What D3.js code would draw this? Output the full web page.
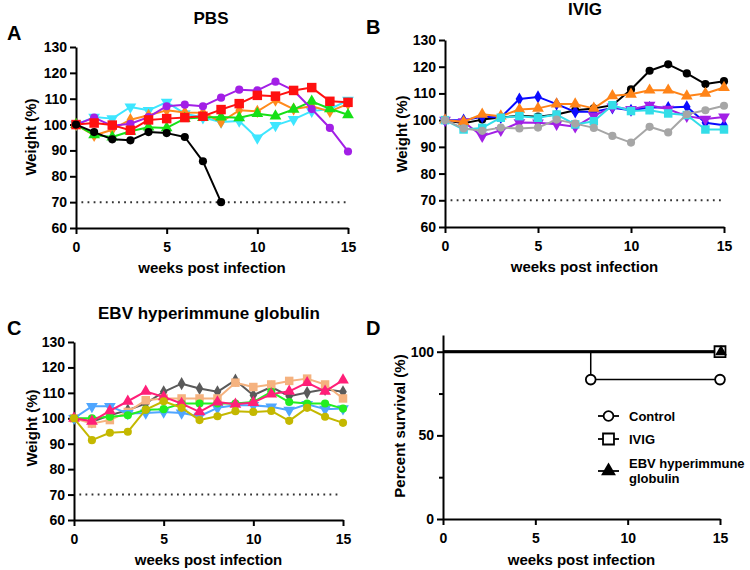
<!DOCTYPE html>
<html><head><meta charset="utf-8">
<script src="https://cdn.jsdelivr.net/npm/d3@7"></script>
<style>
html,body{margin:0;padding:0;background:#fff;}
svg text{font-family:"Liberation Sans",Arial,sans-serif;font-weight:bold;fill:#000;}
</style></head>
<body>
<svg id="chart" width="750" height="570"></svg>
<script>
// ---------------- DATA ----------------
const weeks = [0,1,2,3,4,5,6,7,8,9,10,11,12,13,14,15];
const weightTicks = [60,70,80,90,100,110,120,130];
const weekTicks = [0,5,10,15];
const thresholdWeight = 70;

// Panel A: PBS
const pbsBlack  = [100,97.1,94.3,93.9,97.1,96.7,95.2,85.8,70];
const pbsPurple = [100,102.7,99.5,100.3,102.9,107.1,107.7,107.1,110.4,113.5,113.2,116.6,113.2,106,98.7,89.6];
const pbsRed    = [100,100.6,99.8,97.8,101.8,102.3,102.7,103.2,105.8,108.1,111.3,111.0,113.2,114.3,109,108.6];
const pbsOrange = [100,95.8,98,101.9,103.6,105.5,104.7,104.6,101,105.5,105.1,109.4,106,107.1,105.1,108];
const pbsGreen  = [100,96,95.2,97.4,99,98.7,102.3,102.7,102.9,102.6,104.2,103.3,105.9,109,106.1,103.8];
const pbsCyan   = [100,102.9,102.3,106.8,105.5,108.7,104.2,102.7,101,101.4,94.8,99.7,102,105.2,106,109.4];

// Panel B: IVIG
const ivigBlack  = [100,98.8,100.2,101,101.6,101.3,102.1,103.7,104.4,105.6,111.5,118.5,120.9,117.5,113.5,114.6];
const ivigOrange = [100,99.4,102.2,101.5,104,104.4,106,106,104.4,109.1,109.7,111.2,111.2,109,110,112.2];
const ivigBlue   = [100,100,101.3,101,107.9,108.7,106,103.1,103.1,104.6,103.7,104.7,104.7,105,99,98.1];
const ivigPurple = [100,99.4,94,96.2,99.1,99,98.5,97.5,101.6,105,104,105.6,104.1,101.5,100.4,101.2];
const ivigCyan   = [100,96.5,97.1,100.9,101.5,100.9,102.1,98.4,99.6,105.6,103.4,103.7,102.5,101.9,96.5,96.5];
const ivigGray   = [100,96.9,96,97.2,96.9,97.2,100.2,98.7,97.1,94.1,91.6,97.5,95.4,102.2,103.7,105.4];

// Panel C: EBV hyperimmune globulin
const ebvGray  = [100,98.6,101.2,103.2,105.8,110.4,113.6,111.7,110.4,115,109.1,112.3,108.7,110.1,111.4,110.4];
const ebvTan   = [100,97.9,99.3,102.5,107.1,107.8,107.8,107.8,107.8,114,112.3,113.3,114.7,115.6,113.3,107.8];
const ebvPink  = [100,98.8,102.9,106.7,110.6,108.4,105.8,102.5,106.4,105.5,106.2,109.5,110.6,114,110.6,115];
const ebvGreen = [100,100,100.6,101.2,103.4,103.6,105.8,105.8,105.8,105.8,106.4,110.4,106.4,105.8,105.8,103.8];
const ebvBlue  = [100,104.7,104.7,101.9,102.1,102.5,102.1,100.8,104.1,105.1,105.1,104.5,103.2,105.5,103.6,103.8];
const ebvOlive = [100,91.4,94.3,94.7,103.4,106.7,104.1,99.3,100.8,102.8,102.5,102.9,99,104.1,100.6,98.2];

// Panel D: survival
const survivalTicks = [0,50,100];
const survivalMinorTicks = [25,75];
const controlTimes = [0,8,15];
const controlSurvival = [100,83.33,83.33];
const ivigTimes = [0,15];
const ivigSurvival = [100,100];
const ebvTimes = [0,15];
const ebvSurvival = [100,100];
const legendLabels = ["Control","IVIG","EBV hyperimmune globulin"];

// ---------------- DRAWING ----------------
const svg = d3.select("#chart");
const FONT = "Liberation Sans, Arial, sans-serif";

const sym = {
  circle: d3.symbol().type(d3.symbolCircle).size(52),
  square: d3.symbol().type(d3.symbolSquare).size(72),
  bigSquare: d3.symbol().type(d3.symbolSquare).size(90),
  triangle: d3.symbol().type(d3.symbolTriangle).size(60),
  diamond: d3.symbol().type(d3.symbolDiamond).size(50),
  invTriangle: d3.symbol().type(d3.symbolTriangle).size(60)
};

function styleAxis(g){
  g.select(".domain").attr("stroke","#000").attr("stroke-width",2);
  g.selectAll(".tick line").attr("stroke","#000").attr("stroke-width",2);
  g.selectAll(".tick text").attr("font-size",14).attr("font-family",FONT).attr("font-weight","bold").attr("fill","#000");
}

function weightPanel(cfg, series){
  const x = d3.scaleLinear().domain([0,15]).range([cfg.x0,cfg.x1]);
  const y = d3.scaleLinear().domain([60,130]).range([cfg.yBot,cfg.yTop]);
  const g = svg.append("g");

  g.append("g").attr("transform",`translate(0,${cfg.yBot})`)
    .call(d3.axisBottom(x).tickValues(weekTicks).tickSize(6).tickSizeOuter(0).tickPadding(8))
    .call(styleAxis);
  g.append("g").attr("transform",`translate(${cfg.x0},0)`)
    .call(d3.axisLeft(y).tickValues(weightTicks).tickSize(6).tickSizeOuter(0).tickPadding(3))
    .call(styleAxis);

  g.append("line")
    .attr("x1",x(0.3)).attr("x2",x(14.9))
    .attr("y1",y(thresholdWeight)).attr("y2",y(thresholdWeight))
    .attr("stroke","#333").attr("stroke-width",2).attr("stroke-dasharray","1.8,4.3");

  const line = d3.line().x((d,i)=>x(weeks[i])).y(d=>y(d));
  series.forEach(s=>{
    g.append("path").datum(s.values).attr("d",line)
      .attr("fill","none").attr("stroke",s.color).attr("stroke-width",2).attr("stroke-linejoin","round");
    g.selectAll(null).data(s.values).enter().append("path")
      .attr("d",sym[s.symbol]())
      .attr("transform",(d,i)=>`translate(${x(weeks[i])},${y(d)})${s.symbol==="invTriangle"?" rotate(180)":""}`)
      .attr("fill",s.color);
  });

  // labels
  g.append("text").attr("x",cfg.letterX).attr("y",cfg.letterY).attr("font-size",20).text(cfg.letter);
  g.append("text").attr("x",cfg.titleX).attr("y",cfg.titleY).attr("font-size",17).attr("text-anchor","middle").text(cfg.title);
  g.append("text").attr("x",(cfg.x0+cfg.x1)/2).attr("y",cfg.xLabY).attr("font-size",15).attr("text-anchor","middle").text("weeks post infection");
  g.append("text").attr("transform",`translate(${cfg.yLabX},${cfg.yLabY}) rotate(-90)`)
    .attr("font-size",15).attr("text-anchor","middle").text("Weight (%)");
}

weightPanel({x0:76,x1:348,yTop:47,yBot:228,letter:"A",letterX:7,letterY:40,title:"PBS",titleX:211,titleY:24,xLabY:273,yLabX:36,yLabY:137},[
  {values:pbsCyan,color:"#3ee6ff",symbol:"invTriangle"},
  {values:pbsOrange,color:"#ff8a1c",symbol:"diamond"},
  {values:pbsGreen,color:"#16e016",symbol:"triangle"},
  {values:pbsPurple,color:"#a21fe6",symbol:"circle"},
  {values:pbsRed,color:"#ff1010",symbol:"bigSquare"},
  {values:pbsBlack,color:"#000000",symbol:"circle"}
]);

weightPanel({x0:445,x1:724,yTop:40,yBot:227,letter:"B",letterX:366,letterY:34,title:"IVIG",titleX:585,titleY:15,xLabY:272,yLabX:407,yLabY:134},[
  {values:ivigBlack,color:"#000000",symbol:"circle"},
  {values:ivigBlue,color:"#0a0aff",symbol:"diamond"},
  {values:ivigPurple,color:"#a21fe6",symbol:"invTriangle"},
  {values:ivigOrange,color:"#ff8418",symbol:"triangle"},
  {values:ivigCyan,color:"#33dde8",symbol:"square"},
  {values:ivigGray,color:"#a6a6a6",symbol:"circle"}
]);

weightPanel({x0:74,x1:343,yTop:342,yBot:520,letter:"C",letterX:7,letterY:335,title:"EBV hyperimmune globulin",titleX:209,titleY:319,xLabY:565,yLabX:37,yLabY:428},[
  {values:ebvGray,color:"#5a5a5a",symbol:"diamond"},
  {values:ebvTan,color:"#f5b27f",symbol:"square"},
  {values:ebvBlue,color:"#4fa6ff",symbol:"invTriangle"},
  {values:ebvGreen,color:"#22ee22",symbol:"circle"},
  {values:ebvPink,color:"#ff1f78",symbol:"triangle"},
  {values:ebvOlive,color:"#c4b800",symbol:"circle"}
]);

// Panel D
(function(){
  const cfg = {x0:443,x1:720,yTop:335,yBot:519};
  const x = d3.scaleLinear().domain([0,15]).range([cfg.x0,cfg.x1]);
  const y = d3.scaleLinear().domain([0,110]).range([cfg.yBot,cfg.yTop]);
  const g = svg.append("g");

  g.append("g").attr("transform",`translate(0,${cfg.yBot})`)
    .call(d3.axisBottom(x).tickValues(weekTicks).tickSize(6).tickSizeOuter(0).tickPadding(8))
    .call(styleAxis);
  g.append("g").attr("transform",`translate(${cfg.x0},0)`)
    .call(d3.axisLeft(y).tickValues(survivalTicks).tickSize(6).tickSizeOuter(0).tickPadding(3))
    .call(styleAxis);
  g.append("g").attr("transform",`translate(${cfg.x0},0)`)
    .call(d3.axisLeft(y).tickValues(survivalMinorTicks).tickSize(4).tickSizeOuter(0).tickFormat(""))
    .call(styleAxis).select(".domain").remove();

  const step = (times)=>d3.line().curve(d3.curveStepAfter).x((d,i)=>x(times[i])).y(d=>y(d));
  g.append("path").datum(ivigSurvival).attr("d",step(ivigTimes)).attr("fill","none").attr("stroke","#000").attr("stroke-width",3);
  g.append("path").datum(ebvSurvival).attr("d",step(ebvTimes)).attr("fill","none").attr("stroke","#000").attr("stroke-width",2.5);
  g.append("path").datum(controlSurvival).attr("d",step(controlTimes)).attr("fill","none").attr("stroke","#000").attr("stroke-width",1.5);

  const circ = d3.symbol().type(d3.symbolCircle).size(75);
  const sq = d3.symbol().type(d3.symbolSquare).size(120);
  const tri = d3.symbol().type(d3.symbolTriangle).size(60);

  // control markers (after time 0)
  g.selectAll(null).data(controlSurvival.slice(1)).enter().append("path")
    .attr("d",circ()).attr("transform",(d,i)=>`translate(${x(controlTimes[i+1])},${y(d)})`)
    .attr("fill","#fff").attr("stroke","#000").attr("stroke-width",1.8);
  g.append("path").attr("d",sq()).attr("transform",`translate(${x(ivigTimes[1])},${y(ivigSurvival[1])})`)
    .attr("fill","#fff").attr("stroke","#000").attr("stroke-width",1.8);
  g.append("path").attr("d",tri()).attr("transform",`translate(${x(ebvTimes[1])+1},${y(ebvSurvival[1])})`)
    .attr("fill","#000");

  // legend
  const lx0 = 598, lx1 = 619, tx = 629;
  const legendRows = [
    {y:416, shape:circ, fill:"#fff", label:[legendLabels[0]], ty:[421]},
    {y:439, shape:sq, fill:"#fff", label:[legendLabels[1]], ty:[444]},
    {y:471, shape:tri, fill:"#000", label:["EBV hyperimmune","globulin"], ty:[468,483]}
  ];
  legendRows.forEach(r=>{
    g.append("line").attr("x1",lx0).attr("x2",lx1).attr("y1",r.y).attr("y2",r.y).attr("stroke","#000").attr("stroke-width",1.8);
    g.append("path").attr("d",r.shape()).attr("transform",`translate(${(lx0+lx1)/2},${r.y})`)
      .attr("fill",r.fill).attr("stroke","#000").attr("stroke-width",1.8);
    r.label.forEach((t,k)=>g.append("text").attr("x",tx).attr("y",r.ty[k]).attr("font-size",13).text(t));
  });

  g.append("text").attr("x",366).attr("y",335).attr("font-size",20).text("D");
  g.append("text").attr("x",(cfg.x0+cfg.x1)/2).attr("y",565).attr("font-size",15).attr("text-anchor","middle").text("weeks post infection");
  g.append("text").attr("transform",`translate(405,426) rotate(-90)`).attr("font-size",15).attr("text-anchor","middle").text("Percent survival (%)");
})();
</script>
</body></html>
